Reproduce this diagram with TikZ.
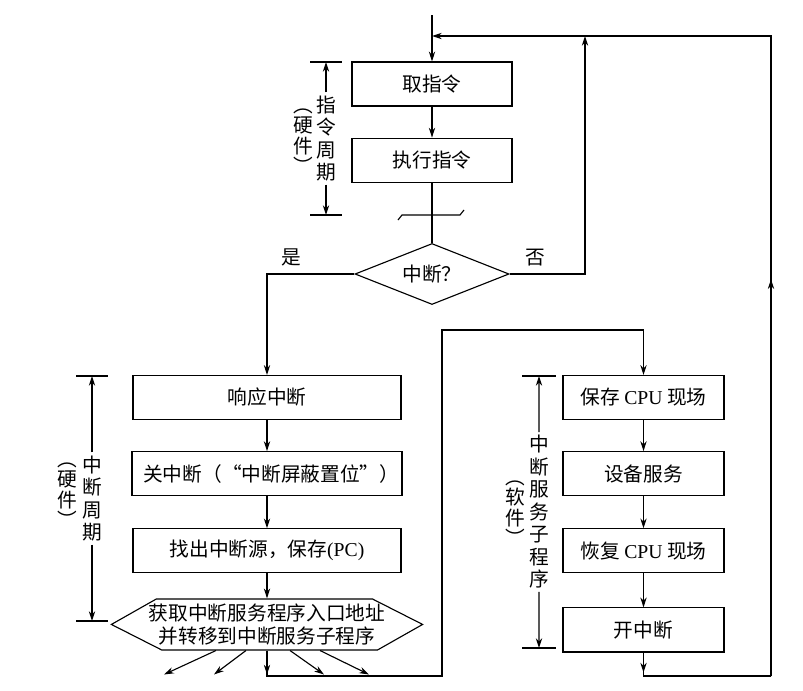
\documentclass[tikz,border=0pt]{standalone}
\usepackage{fontspec}
\setmainfont{Liberation Serif}
\newfontfamily\cjk{Noto Sans CJK SC}
\usetikzlibrary{arrows.meta,positioning,shapes,calc}

\begin{document}
\begin{tikzpicture}[x=0.025cm,y=-0.025cm,node distance=0.775cm,>={Stealth[length=7pt,width=4.5pt]},line width=0.8pt,
  every node/.style={font=\cjk\fontsize{14}{16}\selectfont}]
\tikzstyle{box}=[draw,minimum height=1.1cm,inner sep=2pt]
\tikzstyle{vlabel}=[align=center,inner sep=2pt]
\tikzstyle{hwlabel}=[align=center,inner sep=0pt,font=\cjk\fontsize{14}{14.5}\selectfont]
\useasboundingbox (0,0) rectangle (803,691);
% instruction cycle
\coordinate (entry) at (432,15);
\coordinate (loop) at (432,36);
\node[box,minimum width=4cm] (fetch) at (432,84) {取指令};
\node[box,minimum width=4cm,below=of fetch] (exec) {执行指令};
\node[draw,diamond,aspect=2.5,inner sep=0pt,minimum width=3.85cm,minimum height=1.525cm] (irq) at (432,274) {中断？};
% interrupt cycle (hardware)
\node[box,minimum width=6.7cm] (ack) at (267,397.5) {响应中断};
\node[box,minimum width=6.7cm,below=of ack] (mask) {\hspace*{6pt}关中断（“中断屏蔽置位”）};
\node[box,minimum width=6.7cm,below=0.8cm of mask] (findsrc) {找出中断源，保存{\rmfamily (PC)}};
\node[align=center,inner sep=0pt,minimum width=7.75cm,minimum height=1.275cm,below=0.625cm of findsrc] (jump) {获取中断服务程序入口地址\\并转移到中断服务子程序};
\draw (jump.west) -- ++(45,-25.5) -- ++(216,0) -- (jump.east) -- ++(-45,25.5) -- ++(-216,0) -- cycle;
% interrupt service routine (software)
\node[box,minimum width=4.025cm] (savecpu) at (643.5,397.5) {保存 {\rmfamily CPU} 现场};
\node[box,minimum width=4.025cm,below=of savecpu] (service) {设备服务};
\node[box,minimum width=4.025cm,below=0.8cm of service] (restore) {恢复 {\rmfamily CPU} 现场};
\node[box,minimum width=4.025cm,below=0.85cm of restore] (enable) {开中断};
% connectors
\coordinate (merge) at (585,36);
\coordinate (lcorner) at (442,676);
\coordinate (lup) at (442,330);
\coordinate (rbot) at (643.5,676);
\coordinate (rcorner) at (771,676);
\coordinate (rtop) at (771,36);
\coordinate (chk) at (432,215);
\draw[->] (entry) -- (fetch);
\draw[->] (fetch) -- (exec);
\draw (exec) -- (irq);
\draw (chk) ++(-34,5) -- ++(4,-5) -- ++(58,0) -- ++(4,-5);
\draw[->] (irq.west) -| node[above=2pt,pos=0.36] {是} (ack.north);
\draw[->] (irq.east) -| node[above=2pt,pos=0.17] {否} (merge);
\draw[->] (ack) -- (mask);
\draw[->] (mask) -- (findsrc);
\draw[->] (findsrc) -- (jump.north);
\draw[->] (jump.south) -- ++(0,24);
\foreach \a/\b/\c in {-51/-103/24, -21/-53/24, 23/57/24, 53/102/24}
  \draw[->] ($(jump.south)+(\a,0)$) -- ($(jump.south)+(\b,\c)$);
\draw[->] (jump.south) |- (lcorner) -- (lup) -| (savecpu.north);
\draw[->] (savecpu) -- (service);
\draw[->] (service) -- (restore);
\draw[->] (restore) -- (enable);
\draw[->] (enable.south) -- ++(0,20);
\draw (enable.south) -- (rbot) -- (rcorner);
\draw[->] (rcorner) -- ($(rcorner)!0.62!(rtop)$);
\draw[->] (rcorner) -- (rtop) -- (loop);
% side brackets
\coordinate (b1t) at (326,62);
\coordinate (b1b) at (326,215);
\node[vlabel] (b1lab) at ($(b1t)!0.5!(b1b)$) {指\\令\\周\\期};
\node[hwlabel] (b1hw) at (303,141) {︵\\硬\\件\\︶};
\draw (b1t) ++(-16,0) -- ++(32,0);
\draw (b1b) ++(-16,0) -- ++(32,0);
\draw[->] (b1lab.north) -- (b1t);
\draw[->] (b1lab.south) -- (b1b);
\coordinate (b2t) at (92,376);
\coordinate (b2b) at (92,621);
\node[vlabel] (b2lab) at ($(b2t)!0.5!(b2b)$) {中\\断\\周\\期};
\node[hwlabel] (b2hw) at (67,495) {︵\\硬\\件\\︶};
\draw (b2t) ++(-16,0) -- ++(32,0);
\draw (b2b) ++(-16,0) -- ++(32,0);
\draw[->] (b2lab.north) -- (b2t);
\draw[->] (b2lab.south) -- (b2b);
\coordinate (b3t) at (539,376);
\coordinate (b3b) at (539,648);
\node[vlabel] (b3lab) at ($(b3t)!0.5!(b3b)$) {中\\断\\服\\务\\子\\程\\序};
\node[hwlabel] (b3hw) at (515,513) {︵\\软\\件\\︶};
\draw (b3t) ++(-17,0) -- ++(34,0);
\draw (b3b) ++(-17,0) -- ++(34,0);
\draw[->] (b3lab.north) -- (b3t);
\draw[->] (b3lab.south) -- (b3b);
\end{tikzpicture}
\end{document}
